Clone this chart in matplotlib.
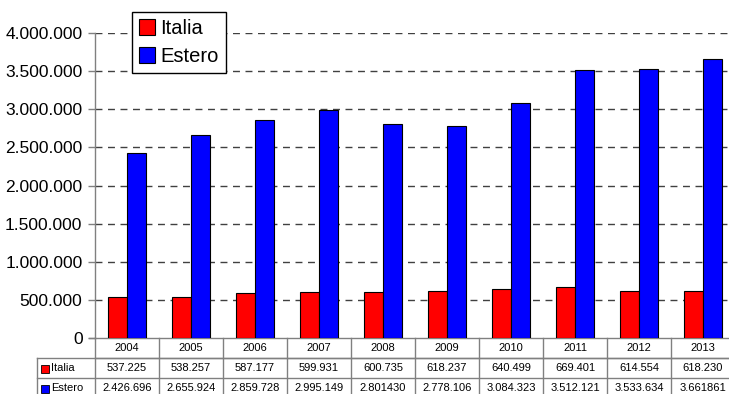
import matplotlib
matplotlib.use("Agg")
import matplotlib.pyplot as plt
import matplotlib.transforms as mtransforms
from matplotlib.patches import Patch, Rectangle
from matplotlib.ticker import FuncFormatter

plt.rcParams['font.family'] = ['Liberation Sans', 'DejaVu Sans']

# data
years = ['2004', '2005', '2006', '2007', '2008', '2009', '2010', '2011', '2012', '2013']
italia = [537225, 538257, 587177, 599931, 600735, 618237, 640499, 669401, 614554, 618230]
estero = [2426696, 2655924, 2859728, 2995149, 2801430, 2778106, 3084323, 3512121, 3533634, 3661861]
italia_labels = ['537.225', '538.257', '587.177', '599.931', '600.735',
                 '618.237', '640.499', '669.401', '614.554', '618.230']
estero_labels = ['2.426.696', '2.655.924', '2.859.728', '2.995.149', '2.801430',
                 '2.778.106', '3.084.323', '3.512.121', '3.533.634', '3.661861']
series_names = ['Italia', 'Estero']
series_colors = ['#FF0000', '#0000FF']

W, H = 729, 394
fig = plt.figure(figsize=(W / 100, H / 100), dpi=100)
ax_left, ax_top, ax_bottom, col_w = 95, 33, 338, 64
ax = fig.add_axes([ax_left / W, 1 - ax_bottom / H, 10 * col_w / W, (ax_bottom - ax_top) / H])

x = list(range(len(years)))
bw = 0.29
ax.bar([i - bw / 2 for i in x], italia, bw, color=series_colors[0], edgecolor='black', linewidth=0.8, zorder=3)
ax.bar([i + bw / 2 for i in x], estero, bw, color=series_colors[1], edgecolor='black', linewidth=0.8, zorder=3)

ax.set_xlim(-0.5, len(years) - 0.5)
ax.set_ylim(0, 4000000)
ax.set_yticks(range(0, 4000001, 500000))
ax.yaxis.set_major_formatter(FuncFormatter(lambda v, p: f'{int(v):,}'.replace(',', '.')))
ax.tick_params(axis='y', direction='out', length=5, width=1, color='#808080', labelsize=12.5, pad=4)
ax.set_xticks([])
for s in ['top', 'right']:
    ax.spines[s].set_visible(False)
for s in ['left', 'bottom']:
    ax.spines[s].set_color('#808080')
    ax.spines[s].set_linewidth(1)

for v in range(500000, 4000001, 500000):
    ax.axhline(v, color='#404040', linewidth=1, linestyle=(0, (5, 4)), zorder=1)

# data table under the chart
rh = 20 / (ax_bottom - ax_top)
trans = mtransforms.blended_transform_factory(ax.transData, ax.transAxes)
lab_left = -0.5 - (ax_left - 37) / col_w
right = len(years) - 0.5
line_kw = dict(color='#808080', linewidth=1, transform=trans, clip_on=False)

ax.plot([-0.5, right], [-rh, -rh], **line_kw)
ax.plot([lab_left, right], [-rh, -rh], **line_kw)
ax.plot([lab_left, right], [-2 * rh, -2 * rh], **line_kw)
ax.plot([lab_left, lab_left], [-rh, -3 * rh], **line_kw)
for i in range(len(years) + 1):
    ax.plot([i - 0.5, i - 0.5], [0, -3 * rh], **line_kw)
ax.plot([-0.5 - 6 / col_w, -0.5], [0, 0], **line_kw)

for i, yr in enumerate(years):
    ax.text(i, -0.5 * rh, yr, transform=trans, ha='center', va='center', fontsize=8)
    ax.text(i, -1.5 * rh, italia_labels[i], transform=trans, ha='center', va='center', fontsize=8)
    ax.text(i, -2.5 * rh, estero_labels[i], transform=trans, ha='center', va='center', fontsize=8)

for r, (name, c) in enumerate(zip(series_names, series_colors)):
    yc = -(1.5 + r) * rh
    ax.add_patch(Rectangle((lab_left + 4 / col_w, yc - 0.45 * rh / 2 * 1.0), 8 / col_w, 0.4 * rh,
                           transform=trans, facecolor=c, edgecolor='black', linewidth=0.6, clip_on=False))
    ax.text(lab_left + 14 / col_w, yc, name, transform=trans, ha='left', va='center', fontsize=8)

handles = [Patch(facecolor=c, edgecolor='black', linewidth=0.8, label=n)
           for n, c in zip(series_names, series_colors)]
fig.legend(handles=handles, loc='upper left', bbox_to_anchor=(132 / W, 1 - 12 / H),
           fontsize=14.5, frameon=True, fancybox=False, edgecolor='black', framealpha=1,
           borderaxespad=0, borderpad=0.35, handlelength=0.8, handleheight=0.8,
           handletextpad=0.25, labelspacing=0.45)

fig.savefig('out.png', dpi=100)
